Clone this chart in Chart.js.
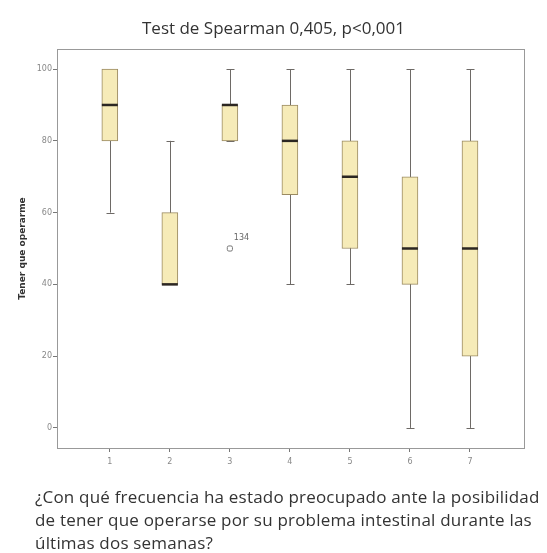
<!DOCTYPE html>
<html>
<head>
<meta charset="utf-8">
<script src="https://cdn.jsdelivr.net/npm/chart.js@4"></script>
<style>
  html, body { margin: 0; padding: 0; background: #fff; }
  #wrap { position: relative; width: 547px; height: 553px; }
  #chart { position: absolute; left: 0; top: 0; }
  #title { position: absolute; left: 0; top: 16px; width: 547px; text-align: center; font: 17px "Open Sans", sans-serif; color: #333; }
  #question { position: absolute; left: 35px; top: 485px; width: 520px; font: 17px "Open Sans", sans-serif; letter-spacing: 0.2px; line-height: 23px; color: #333; white-space: nowrap; }
</style>
</head>
<body>
<div id="wrap">
  <canvas id="chart" width="547" height="553"></canvas>
  <div id="title">Test de Spearman 0,405, p&lt;0,001</div>
  <div id="question">¿Con qué frecuencia ha estado preocupado ante la posibilidad<br>de tener que operarse por su problema intestinal durante las<br>últimas dos semanas?</div>
</div>
<script>
const categories = [1, 2, 3, 4, 5, 6, 7];
const mins    = [60, 40, 80, 40, 40, 0, 0];
const q1s     = [80, 40, 80, 65, 50, 40, 20];
const medians = [90, 40, 90, 80, 70, 50, 50];
const q3s     = [100, 60, 90, 90, 80, 70, 80];
const maxs    = [100, 80, 100, 100, 100, 100, 100];
const outliers = [{ x: 3, y: 50, label: '134' }];
const yTicks = [0, 20, 40, 60, 80, 100];

const boxPlugin = {
  id: 'boxParts',
  beforeDatasetsDraw(chart) {
    const { ctx, scales: { x, y } } = chart;
    ctx.save();
    ctx.strokeStyle = '#6e6a66';
    ctx.lineWidth = 1;
    categories.forEach((c, i) => {
      const px = Math.round(x.getPixelForValue(c)) + 0.5;
      ctx.beginPath();
      ctx.moveTo(px, y.getPixelForValue(mins[i]));
      ctx.lineTo(px, y.getPixelForValue(maxs[i]));
      ctx.stroke();
      [mins[i], maxs[i]].forEach(v => {
        const py = Math.round(y.getPixelForValue(v)) + 0.5;
        ctx.beginPath();
        ctx.moveTo(px - 4, py);
        ctx.lineTo(px + 4, py);
        ctx.stroke();
      });
    });
    ctx.restore();
  },
  afterDatasetsDraw(chart) {
    const { ctx, scales: { x, y } } = chart;
    ctx.save();
    ctx.strokeStyle = '#2b2622';
    ctx.lineWidth = 2.5;
    categories.forEach((c, i) => {
      const px = x.getPixelForValue(c);
      const py = y.getPixelForValue(medians[i]);
      ctx.beginPath();
      ctx.moveTo(px - 8, py);
      ctx.lineTo(px + 8, py);
      ctx.stroke();
    });
    ctx.fillStyle = '#666';
    ctx.font = '8px "DejaVu Sans", sans-serif';
    outliers.forEach(o => {
      ctx.fillText(o.label, x.getPixelForValue(o.x) + 4, y.getPixelForValue(o.y) - 9);
    });
    // frame
    const a = chart.chartArea;
    ctx.strokeStyle = '#999';
    ctx.lineWidth = 1;
    ctx.strokeRect(Math.round(a.left) + 0.5, Math.round(a.top) + 0.5, Math.round(a.right - a.left), Math.round(a.bottom - a.top));
    ctx.restore();
  }
};

new Chart(document.getElementById('chart'), {
  type: 'bar',
  data: {
    datasets: [{
      data: categories.map((c, i) => ({ x: c, y: [q1s[i], q3s[i]] })),
      backgroundColor: '#f6ebb8',
      borderColor: '#9a8a62',
      borderWidth: 1,
      borderSkipped: false,
      barThickness: 16
    }, {
      type: 'scatter',
      data: outliers.map(o => ({ x: o.x, y: o.y })),
      pointStyle: 'rectRounded',
      pointRadius: 3,
      backgroundColor: '#fff',
      borderColor: '#777',
      borderWidth: 1
    }]
  },
  options: {
    responsive: false,
    animation: false,
    layout: { padding: { left: 0, top: 49, right: 23, bottom: 75 } },
    plugins: { legend: { display: false }, tooltip: { enabled: false } },
    scales: {
      x: {
        type: 'linear',
        offset: false,
        min: 0.12,
        max: 7.9,
        afterBuildTicks: s => { s.ticks = categories.map(c => ({ value: c })); },
        afterFit: s => { s.height = 30; },
        grid: { offset: false, drawOnChartArea: false, tickLength: 4, color: '#777' },
        border: { color: '#777' },
        ticks: { color: '#888', font: { size: 8, family: 'DejaVu Sans' }, padding: 5 }
      },
      y: {
        min: -5.6,
        max: 105.6,
        afterBuildTicks: s => { s.ticks = yTicks.map(v => ({ value: v })); },
        afterFit: s => { s.width = 57; },
        grid: { drawOnChartArea: false, tickLength: 4, color: '#777' },
        border: { color: '#777' },
        ticks: { color: '#888', font: { size: 8, family: 'DejaVu Sans' }, padding: 1 },
        title: { display: true, text: 'Tener que operarme', color: '#333', font: { size: 9, weight: 'bold', family: 'DejaVu Sans' }, padding: { top: 17, bottom: 0 } }
      }
    }
  },
  plugins: [boxPlugin]
});
</script>
</body>
</html>
